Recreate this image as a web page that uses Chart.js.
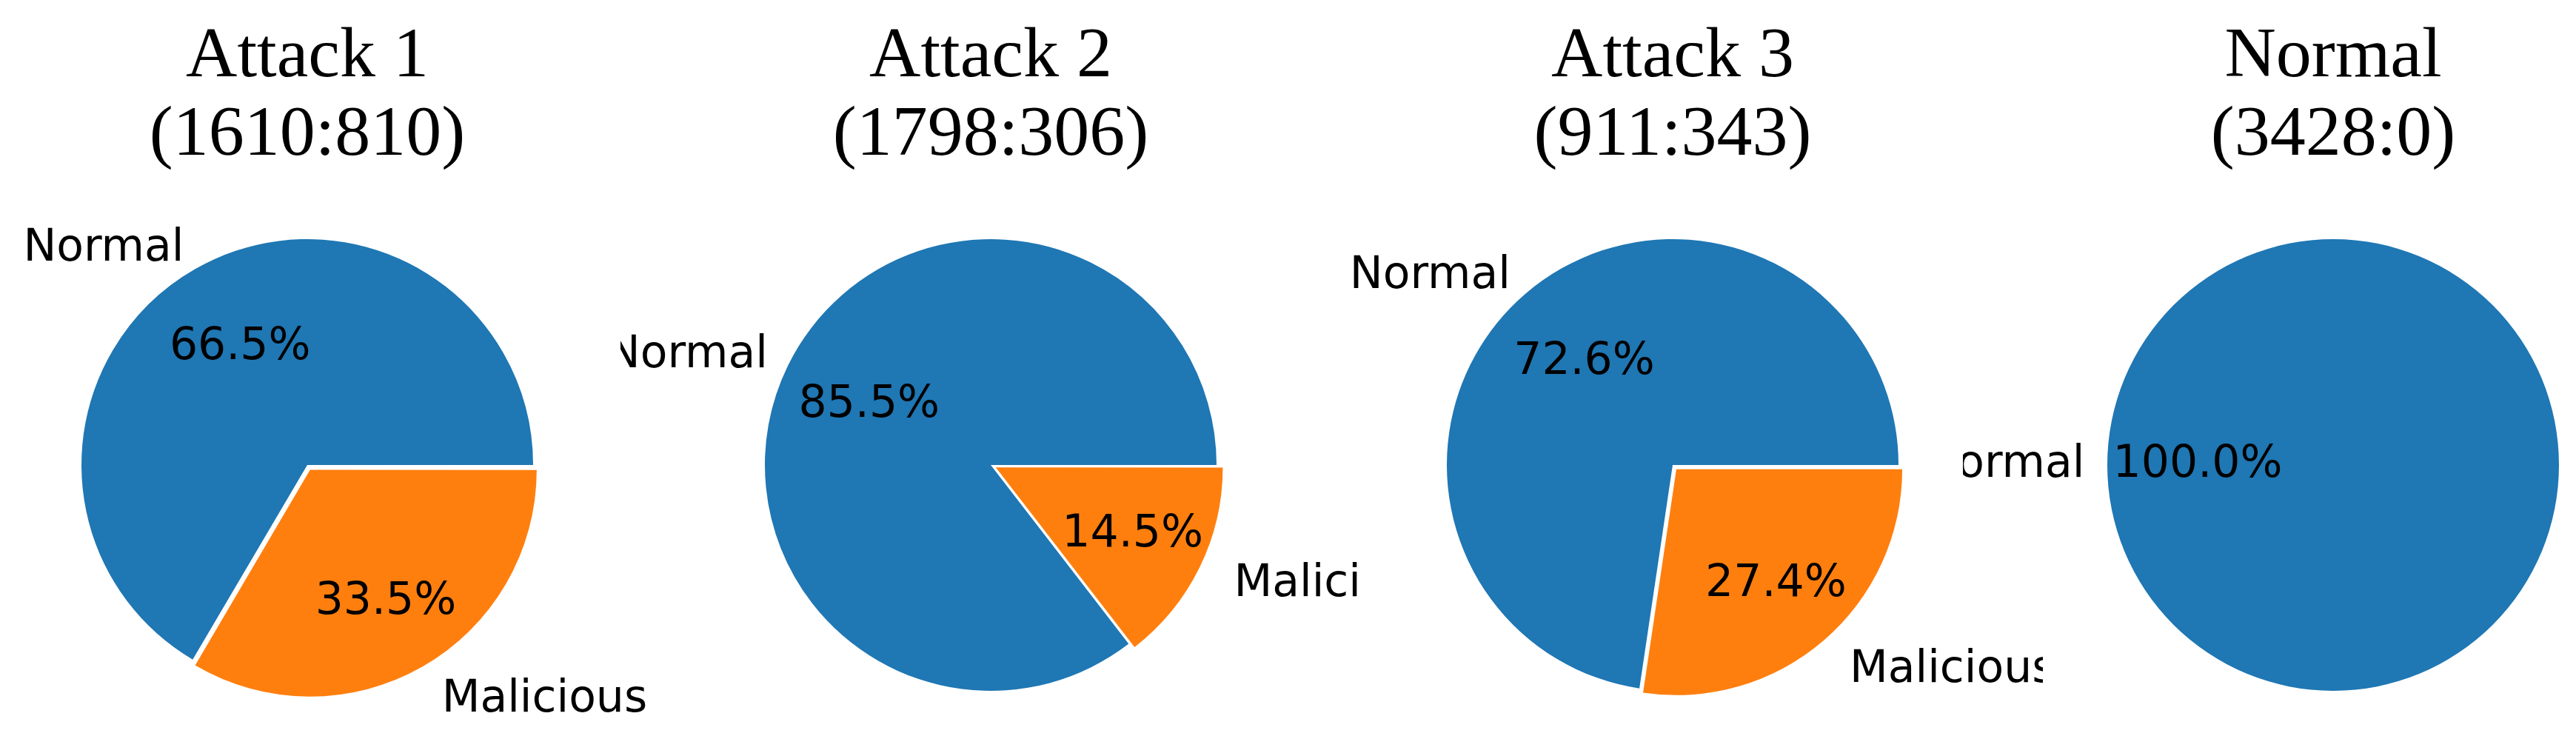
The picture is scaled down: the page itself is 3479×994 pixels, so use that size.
<!DOCTYPE html>
<html>
<head>
<meta charset="utf-8">
<script src="https://cdn.jsdelivr.net/npm/chart.js@4.4.0/dist/chart.umd.min.js"></script>
<style>
  body { margin: 0; background: #fff; }
  #wrap { position: relative; width: 3479px; height: 994px; overflow: hidden; }
  canvas { position: absolute; top: 0; }
</style>
</head>
<body>
<div id="wrap"></div>
<script>
const titles = ['Attack 1', 'Attack 2', 'Attack 3', 'Normal'];
const labels = ['Malicious', 'Normal'];
const normalCounts = [1610, 1798, 911, 3428];
const maliciousCounts = [810, 306, 343, 0];
const centersX = [415, 1338, 2259, 3151];

const pieColors = ['#ff7f0e', '#1f77b4'];
const R = 305;

// matplotlib-style labels: name at 1.1r, percentage at 0.6r
const pieText = {
  id: 'pieText',
  afterDatasetsDraw: (chart, args, opts) => {
    const ctx = chart.ctx;
    const meta = chart.getDatasetMeta(0);
    const data = chart.data.datasets[0].data;
    const total = data.reduce((a, b) => a + b, 0);
    ctx.save();
    ctx.fillStyle = '#000';
    meta.data.forEach((arc, i) => {
      if (!data[i]) return;
      const p = arc.getProps(['x', 'y', 'startAngle', 'endAngle', 'outerRadius']);
      const mid = (p.startAngle + p.endAngle) / 2;
      const off = arc.options.offset || 0;
      const dx = Math.cos(mid), dy = Math.sin(mid);
      ctx.font = '60px "DejaVu Sans"';
      ctx.textBaseline = 'middle';
      const lr = off + p.outerRadius * 1.1;
      ctx.textAlign = dx > 0.001 ? 'left' : (dx < -0.001 ? 'right' : 'center');
      ctx.fillText(chart.data.labels[i], p.x + dx * lr, p.y + dy * lr);
      const pr = off + p.outerRadius * 0.6;
      ctx.textAlign = 'center';
      ctx.fillText((data[i] / total * 100).toFixed(1) + '%', p.x + dx * pr, p.y + dy * pr);
    });
    // title
    const cx = (chart.chartArea.left + chart.chartArea.right) / 2;
    ctx.font = '96px "Liberation Serif"';
    ctx.textAlign = 'center';
    ctx.textBaseline = 'middle';
    ctx.fillText(opts.title, cx, 78);
    ctx.fillText(opts.sub, cx, 184);
    ctx.restore();
  }
};

const wrap = document.getElementById('wrap');
titles.forEach((t, k) => {
  const cv = document.createElement('canvas');
  cv.width = 1000;
  cv.height = 994;
  cv.style.left = (centersX[k] - 500) + 'px';
  wrap.appendChild(cv);
  new Chart(cv, {
    type: 'pie',
    data: {
      labels: labels,
      datasets: [{
        data: [maliciousCounts[k], normalCounts[k]],
        backgroundColor: pieColors,
        borderWidth: 0,
        offset: [R * 0.1, 0]
      }]
    },
    options: {
      responsive: false,
      animation: false,
      devicePixelRatio: 1,
      rotation: 90,
      radius: R,
      layout: { padding: { top: 262 } },
      events: [],
      plugins: {
        legend: { display: false },
        tooltip: { enabled: false },
        pieText: { title: t, sub: '(' + normalCounts[k] + ':' + maliciousCounts[k] + ')' }
      }
    },
    plugins: [pieText]
  });
});
</script>
</body>
</html>
